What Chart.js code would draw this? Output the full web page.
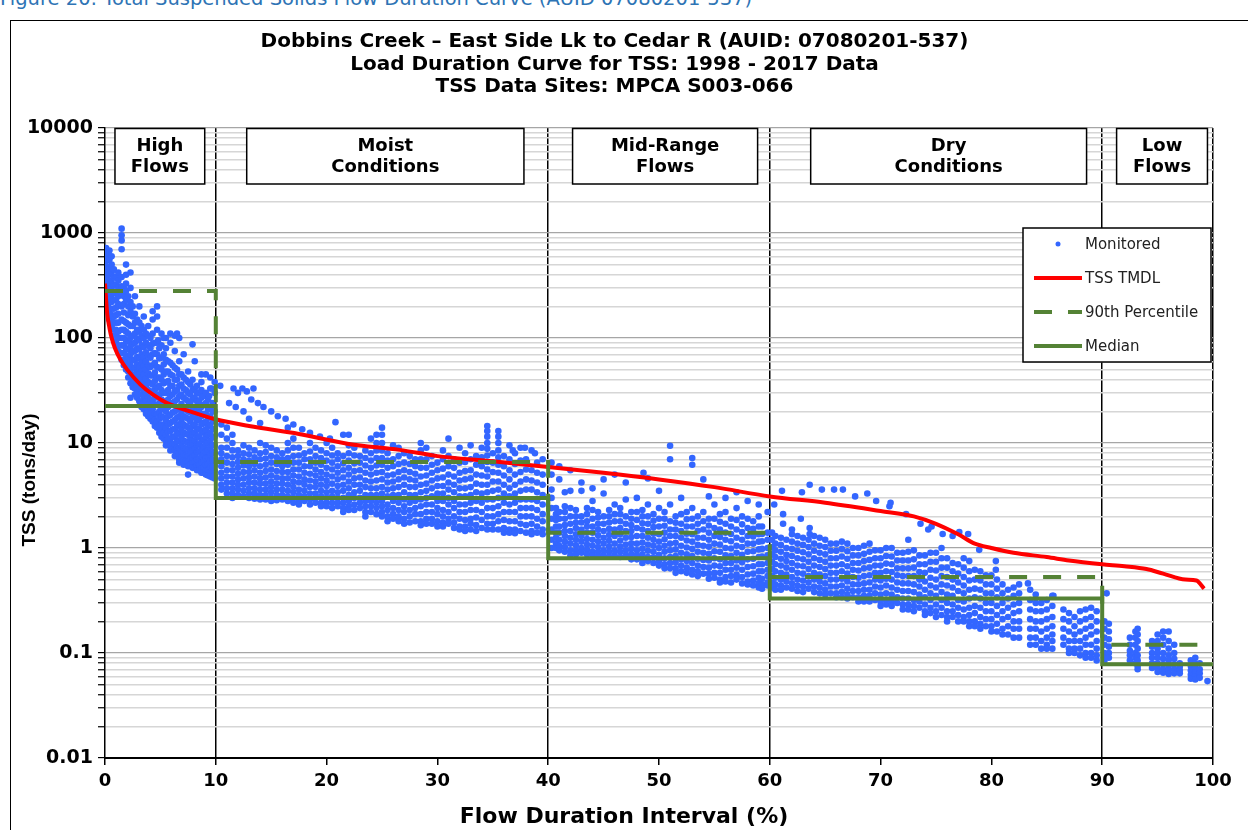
<!DOCTYPE html>
<html>
<head>
<meta charset="utf-8">
<script src="https://cdn.jsdelivr.net/npm/chart.js@4.4.1/dist/chart.umd.min.js"></script>
<style>
  body { margin: 0; background: #fff; width: 1248px; height: 830px; overflow: hidden; position: relative; }
  #caption { position: absolute; left: 0; top: -13px; font: 19.5px "DejaVu Sans", sans-serif; color: #2e74b5; white-space: nowrap; }
  #frame { position: absolute; left: 10px; top: 20px; width: 1260px; height: 830px; border-left: 1.5px solid #000; border-top: 1.5px solid #000; }
  canvas { position: absolute; left: 0; top: 0; }
</style>
</head>
<body>
<div id="caption">Figure 20: Total Suspended Solids Flow Duration Curve (AUID 07080201-537)</div>
<div id="frame"></div>
<canvas id="ldc" width="1248" height="830"></canvas>
<script>
// DATA -----------------------------------------------------------------------

const titleLines = [
    'Dobbins Creek \u2013 East Side Lk to Cedar R (AUID: 07080201-537)',
    'Load Duration Curve for TSS: 1998 - 2017 Data',
    'TSS Data Sites: MPCA S003-066'
]
const xTitle = 'Flow Duration Interval (%)'
const yTitle = 'TSS (tons/day)'
const yTickLabels = ['0.01', '0.1', '1', '10', '100', '1000', '10000']

// flow zones
const zoneBounds = [0, 10, 40, 60, 90, 100]
const zoneNames = [['High', 'Flows'], ['Moist', 'Conditions'], ['Mid-Range', 'Flows'], ['Dry', 'Conditions'], ['Low', 'Flows']]
const p90Values = [280, 6.6, 1.4, 0.53, 0.12]
const medianValues = [22.5, 3.0, 0.8, 0.33, 0.078]

// TMDL curve
const tmdlX = [0, 0.1, 0.2, 0.4, 0.6, 0.9, 1.4, 2, 3.2, 4.3, 5.6, 8, 9.8, 13, 17.5, 22, 26.6, 30, 35, 40, 45, 50, 55, 60, 65, 70, 73, 75, 77, 78.5, 80, 82, 85, 87, 90, 92, 94, 95.5, 97.5, 98.5, 99.2]
const tmdlY = [330, 230, 170, 125, 100, 80, 62, 50, 36, 29, 24, 19.5, 17, 14.5, 12.2, 9.8, 8.6, 7.5, 6.7, 5.9, 5.2, 4.5, 3.8, 3.1, 2.7, 2.25, 2.0, 1.7, 1.35, 1.1, 1.0, 0.9, 0.82, 0.76, 0.70, 0.67, 0.63, 0.57, 0.50, 0.49, 0.41]

// monitored loads, per flow column: [x, y1, y2, ...]
const monitoredColumns = [
    // high flows
    [0.1, 720, 620, 540, 470, 410, 360, 320, 290, 260, 230, 200],
    [0.25, 650, 560, 480, 420, 360, 310, 270, 235, 205, 180],
    [0.4, 680, 560, 470, 400, 340, 290, 250, 220, 190, 170, 150],
    [0.6, 600, 500, 420, 350, 300, 255, 220, 190, 165, 145, 130],
    [0.8, 450, 380, 320, 270, 230, 190, 160, 140, 120, 105],
    [1.0, 380, 320, 270, 230, 195, 165, 140, 120, 105, 92],
    [1.2, 420, 350, 300, 250, 210, 170, 140, 115, 100, 85, 75],
    [1.5, 1100, 950, 850, 700, 380, 310, 260, 200, 150, 120, 100, 85, 72, 62],
    [1.7, 300, 250, 210, 175, 145, 120, 100, 85, 72, 62, 55],
    [1.9, 500, 400, 330, 280, 230, 140, 115, 95, 80, 68, 58, 50],
    [2.1, 250, 200, 165, 135, 110, 92, 78, 66, 56, 48, 42],
    [2.3, 420, 300, 220, 180, 130, 100, 82, 70, 58, 50, 43, 37],
    [2.5, 200, 160, 130, 105, 88, 74, 62, 52, 45, 39, 34],
    [2.7, 250, 170, 140, 110, 90, 75, 62, 52, 44, 38, 33, 29],
    [2.9, 150, 120, 98, 80, 66, 56, 47, 40, 34, 30, 27],
    [3.1, 200, 140, 115, 95, 78, 64, 53, 45, 38, 33, 29, 25],
    [3.3, 130, 105, 85, 70, 58, 48, 40, 34, 29, 25, 22],
    [3.5, 160, 120, 100, 82, 66, 54, 45, 38, 32, 28, 24, 21],
    [3.7, 110, 90, 73, 60, 50, 41, 35, 30, 25, 22, 19],
    [3.9, 130, 105, 85, 68, 55, 46, 38, 32, 27, 23, 20, 18],
    [4.1, 100, 80, 65, 53, 44, 37, 31, 26, 22, 19, 17],
    [4.3, 180, 150, 110, 88, 70, 55, 44, 36, 30, 25, 21, 18, 16],
    [4.5, 90, 72, 58, 47, 39, 32, 27, 23, 19, 16.5, 14.5],
    [4.7, 200, 160, 120, 90, 70, 53, 42, 34, 28, 23, 19, 16, 14],
    [4.9, 80, 64, 52, 42, 35, 29, 24, 20, 17, 14.5, 12.5],
    [5.1, 110, 85, 65, 50, 40, 32, 26, 21, 18, 15, 13, 11.5],
    [5.3, 70, 56, 45, 37, 30, 25, 21, 17.5, 14.5, 12.5, 11],
    [5.5, 100, 80, 62, 48, 38, 30, 24, 20, 16.5, 14, 12, 10.5, 9.5],
    [5.7, 60, 48, 39, 32, 26, 22, 18, 15, 12.8, 11, 9.7],
    [5.9, 110, 90, 58, 45, 35, 28, 23, 18.5, 15.5, 13, 11, 9.5, 8.5],
    [6.1, 55, 44, 35, 29, 24, 19.5, 16, 13.5, 11.5, 9.8, 8.7],
    [6.3, 105, 75, 52, 40, 31, 25, 20, 16.5, 13.5, 11.5, 9.8, 8.5, 7.5],
    [6.5, 50, 40, 32, 26, 21, 17.5, 14.5, 12.2, 10.4, 9, 7.9],
    [6.7, 100, 60, 45, 35, 28, 22, 18, 15, 12.5, 10.5, 9, 7.8, 7, 6.5],
    [6.9, 45, 36, 29, 23.5, 19.5, 16, 13.5, 11.3, 9.6, 8.3, 7.3],
    [7.1, 70, 42, 33, 27, 22, 18, 15, 12.5, 10.5, 9, 7.8, 6.8, 6.2],
    [7.3, 40, 32, 26, 21, 17.5, 14.5, 12.2, 10.3, 8.8, 7.6, 6.7],
    [7.5, 48, 38, 30, 25, 20, 17, 14, 12, 10, 8.6, 7.5, 6.6, 6],
    [7.7, 36, 29, 24, 19.5, 16, 13.3, 11.2, 9.5, 8.1, 7, 6.2],
    [7.9, 87, 40, 32, 26, 21, 17.5, 14.5, 12, 10, 8.5, 7.3, 6.4, 5.8],
    [8.1, 33, 27, 22, 18, 15, 12.5, 10.5, 8.9, 7.6, 6.6, 5.8],
    [8.3, 35, 30, 25, 20, 16.5, 13.5, 11.5, 9.6, 8.2, 7, 6.1, 5.5],
    [8.5, 30, 25, 20, 16.5, 13.7, 11.5, 9.7, 8.3, 7.1, 6.2, 5.5],
    [8.7, 38, 32, 27, 22, 18, 15, 12.5, 10.5, 8.8, 7.5, 6.5, 5.7, 5.2],
    [8.9, 28, 23, 19, 15.5, 13, 10.8, 9.2, 7.8, 6.7, 5.8, 5.2],
    [9.1, 45, 30, 24, 19, 16, 13.5, 11.5, 9.8, 8.3, 7.2, 6.2, 5.5, 5],
    [9.3, 26, 21, 17.5, 14.5, 12, 10.1, 8.6, 7.3, 6.3, 5.5, 4.9],
    [9.5, 42, 33, 22, 18, 15, 12.5, 10.5, 9, 7.7, 6.7, 5.9, 5.2, 4.8],
    [9.7, 24, 20, 16.5, 13.6, 11.3, 9.5, 8, 6.9, 5.9, 5.2, 4.7],
    [9.9, 38, 30, 20, 16, 13.5, 11.5, 9.5, 8.2, 7, 6.1, 5.4, 4.9, 4.6],
    // moist conditions
    [10.5, 15, 12, 9, 8, 7, 6, 5.2, 4.6, 4, 3.6],
    [11, 14, 11, 9, 7.5, 6.5, 5.5, 4.8, 4.2, 3.7, 3.3],
    [11.5, 12, 10, 8.5, 7.3, 6.3, 5.5, 4.8, 4.2, 3.7, 3.3, 3.0],
    [12, 8.5, 7.5, 6.6, 5.8, 5.1, 4.5, 4, 3.6, 3.2],
    [12.5, 9.5, 8, 7, 6.1, 5.3, 4.6, 4, 3.5, 3.1],
    [13, 9, 7.8, 6.8, 6, 5.3, 4.7, 4.2, 3.7, 3.3, 3],
    [13.5, 8.5, 7.3, 6.3, 5.5, 4.8, 4.2, 3.7, 3.3, 2.95],
    [14, 10, 8, 7, 6, 5.2, 4.6, 4.1, 3.6, 3.2, 2.9],
    [14.5, 9.5, 8.2, 7.1, 6.2, 5.4, 4.7, 4.1, 3.6, 3.2, 2.9],
    [15, 9, 7.5, 6.5, 5.6, 4.9, 4.3, 3.8, 3.4, 3, 2.8],
    [15.5, 8.5, 7.3, 6.3, 5.4, 4.7, 4.1, 3.6, 3.2, 2.85],
    [16, 8, 7, 6, 5.3, 4.6, 4.1, 3.6, 3.2, 2.9],
    [16.5, 10, 8.5, 7.2, 6.2, 5.3, 4.6, 4, 3.5, 3.1, 2.8],
    [17, 11, 9, 7.5, 6.5, 5.6, 4.9, 4.3, 3.8, 3.4, 3, 2.7],
    [17.5, 9, 7.6, 6.5, 5.6, 4.8, 4.2, 3.6, 3.2, 2.8, 2.6],
    [18, 8, 7, 6, 5.2, 4.5, 4, 3.5, 3.1, 2.8],
    [18.5, 10, 8.3, 7, 6, 5.1, 4.4, 3.8, 3.3, 2.9, 2.6],
    [19, 9, 7.5, 6.5, 5.6, 4.9, 4.3, 3.8, 3.3, 3, 2.7],
    [19.5, 8.5, 7.2, 6.2, 5.3, 4.6, 4, 3.5, 3.1, 2.7, 2.5],
    [20, 10, 8, 6.8, 5.8, 5, 4.4, 3.9, 3.4, 3, 2.7, 2.5],
    [20.5, 9, 7.6, 6.5, 5.6, 4.8, 4.1, 3.5, 3.1, 2.7, 2.4],
    [21, 8, 7, 6, 5.2, 4.5, 3.9, 3.4, 3, 2.7, 2.5],
    [21.5, 7.5, 6.4, 5.5, 4.7, 4, 3.5, 3, 2.7, 2.4, 2.2],
    [22, 12, 9.5, 8, 6.8, 5.8, 5, 4.3, 3.7, 3.2, 2.8, 2.5, 2.3],
    [22.5, 9, 7.6, 6.4, 5.4, 4.6, 4, 3.4, 3, 2.6, 2.3],
    [23, 7.5, 6.5, 5.5, 4.7, 4, 3.5, 3, 2.7, 2.4],
    [23.5, 8.5, 7.2, 6.1, 5.2, 4.4, 3.8, 3.2, 2.8, 2.5, 2.2, 2],
    [24, 8, 6.8, 5.8, 5, 4.3, 3.7, 3.2, 2.8, 2.5, 2.2],
    [24.5, 12, 10, 8.5, 7.2, 6.1, 5.2, 4.4, 3.7, 3.2, 2.7, 2.4, 2.1],
    [25, 14, 12, 10, 8.5, 7.2, 6.2, 5.3, 4.5, 3.8, 3.3, 2.8, 2.5, 2.2, 2],
    [25.5, 8, 6.8, 5.8, 4.9, 4.2, 3.6, 3.1, 2.6, 2.3, 2, 1.8],
    [26, 7, 6, 5, 4.3, 3.7, 3.2, 2.8, 2.4, 2.1, 1.9],
    [26.5, 9, 7.5, 6.3, 5.3, 4.5, 3.8, 3.2, 2.7, 2.3, 2, 1.8],
    [27, 8, 6.5, 5.5, 4.7, 4, 3.4, 2.9, 2.5, 2.2, 1.9, 1.7],
    [27.5, 7.5, 6.3, 5.3, 4.5, 3.8, 3.2, 2.7, 2.3, 2, 1.75],
    [28, 7, 6, 5.1, 4.4, 3.8, 3.2, 2.8, 2.4, 2.1, 1.8],
    [28.5, 8.5, 7, 5.8, 4.8, 4, 3.4, 2.9, 2.5, 2.1, 1.8, 1.65],
    [29, 9, 7, 5.8, 4.9, 4.1, 3.5, 3, 2.6, 2.2, 1.9, 1.7],
    [29.5, 7.5, 6.2, 5.2, 4.4, 3.7, 3.1, 2.6, 2.2, 1.9, 1.7],
    [30, 6.5, 5.5, 4.6, 3.9, 3.3, 2.8, 2.4, 2.1, 1.8, 1.6],
    [30.5, 8.5, 7, 5.7, 4.7, 3.9, 3.3, 2.8, 2.3, 2, 1.75, 1.6],
    [31, 7.5, 6, 5, 4.2, 3.6, 3, 2.6, 2.2, 1.9, 1.7],
    [31.5, 7, 5.8, 4.8, 4, 3.4, 2.8, 2.4, 2, 1.75, 1.55],
    [32, 9, 6.5, 5.2, 4.4, 3.7, 3.1, 2.6, 2.2, 1.9, 1.6, 1.5],
    [32.5, 8, 6.6, 5.4, 4.5, 3.7, 3.1, 2.6, 2.2, 1.85, 1.6, 1.45],
    [33, 7, 5.5, 4.6, 3.8, 3.2, 2.7, 2.3, 1.9, 1.7, 1.5],
    [33.5, 7.5, 6.2, 5, 4.1, 3.4, 2.8, 2.3, 1.95, 1.65, 1.45],
    [34, 9, 7.3, 6, 4.9, 4, 3.3, 2.7, 2.2, 1.85, 1.55],
    [34.5, 14.5, 13, 11.5, 10, 8.8, 7.6, 6.6, 5.6, 4.8, 4, 3.4, 2.9, 2.4, 2, 1.7, 1.5],
    [35, 8, 6.5, 5.3, 4.3, 3.5, 2.9, 2.4, 2, 1.7, 1.5],
    [35.5, 13, 11.5, 10, 8.5, 7.3, 6.2, 5.2, 4.3, 3.6, 3, 2.5, 2.1, 1.8, 1.5],
    [36, 7.5, 6, 4.9, 4, 3.3, 2.7, 2.2, 1.85, 1.55, 1.4],
    [36.5, 9.5, 7, 5.5, 4.5, 3.7, 3.1, 2.6, 2.2, 1.8, 1.5, 1.4],
    [37, 8, 6.3, 5, 4, 3.3, 2.7, 2.2, 1.8, 1.5, 1.38],
    [37.5, 9, 6.8, 5.3, 4.3, 3.5, 2.9, 2.4, 2, 1.7, 1.45],
    [38, 7, 5.6, 4.5, 3.6, 2.9, 2.4, 2, 1.65, 1.4],
    [38.5, 8.5, 5.5, 4.4, 3.6, 2.9, 2.4, 2, 1.7, 1.45, 1.35],
    [39, 6.5, 5.2, 4.2, 3.4, 2.8, 2.3, 1.9, 1.6, 1.4],
    [39.5, 7, 5, 4, 3.2, 2.6, 2.1, 1.8, 1.5, 1.35],
    // mid-range flows
    [40.3, 6.5, 5, 3.6, 3, 2.4, 1.9, 1.5, 1.2, 1],
    [40.7, 2.4, 2.1, 1.85, 1.6, 1.4, 1.25, 1.1, 1],
    [41, 6, 4.5, 2.2, 1.9, 1.6, 1.4, 1.2, 1.05, 0.95],
    [41.5, 2.5, 2.2, 1.9, 1.65, 1.45, 1.3, 1.15, 1.02, 0.92],
    [42, 5.5, 3.5, 2.4, 2, 1.7, 1.45, 1.25, 1.1, 0.95, 0.85],
    [42.5, 2.3, 2, 1.75, 1.55, 1.35, 1.2, 1.06, 0.95, 0.87],
    [43, 4.2, 3.5, 2, 1.75, 1.5, 1.3, 1.15, 1, 0.9],
    [43.5, 2.4, 2.1, 1.8, 1.6, 1.4, 1.22, 1.08, 0.96, 0.87],
    [44, 3.7, 2.8, 2.3, 1.9, 1.6, 1.4, 1.2, 1.05, 0.92, 0.85],
    [44.5, 2.2, 1.95, 1.7, 1.5, 1.32, 1.16, 1.02, 0.92, 0.84],
    [45, 4.5, 3.3, 2, 1.7, 1.45, 1.25, 1.1, 0.95, 0.85],
    [45.5, 2.3, 2, 1.75, 1.52, 1.33, 1.17, 1.03, 0.92, 0.83],
    [46, 2.6, 2.1, 1.8, 1.5, 1.3, 1.1, 0.95, 0.85],
    [46.5, 2.4, 2.1, 1.8, 1.55, 1.35, 1.18, 1.03, 0.92, 0.82],
    [47, 4.2, 2.9, 2, 1.7, 1.45, 1.25, 1.08, 0.95, 0.85],
    [47.5, 2.2, 1.9, 1.65, 1.45, 1.27, 1.11, 0.98, 0.87, 0.78],
    [48, 3, 2.2, 1.85, 1.55, 1.3, 1.1, 0.95, 0.85, 0.78],
    [48.5, 2.3, 2, 1.72, 1.5, 1.3, 1.13, 0.99, 0.87, 0.78, 0.72],
    [49, 4.6, 2.6, 2, 1.7, 1.45, 1.25, 1.08, 0.94, 0.82, 0.75],
    [49.5, 2.1, 1.82, 1.58, 1.37, 1.2, 1.05, 0.92, 0.81, 0.72],
    [50, 3.5, 2.4, 1.9, 1.6, 1.35, 1.15, 1, 0.86, 0.75, 0.68],
    [50.5, 2.2, 1.9, 1.63, 1.4, 1.21, 1.05, 0.92, 0.8, 0.7, 0.64],
    [51, 9.4, 7, 2.6, 1.8, 1.5, 1.3, 1.1, 0.95, 0.82, 0.72, 0.64],
    [51.5, 2, 1.74, 1.5, 1.3, 1.12, 0.97, 0.84, 0.73, 0.64, 0.58],
    [52, 3, 2.1, 1.7, 1.45, 1.25, 1.05, 0.9, 0.78, 0.68, 0.6],
    [52.5, 2.2, 1.88, 1.6, 1.37, 1.18, 1.01, 0.87, 0.75, 0.65, 0.58],
    [53, 7.2, 6.2, 2.4, 1.9, 1.6, 1.35, 1.15, 0.98, 0.84, 0.72, 0.62, 0.56],
    [53.5, 2, 1.7, 1.46, 1.25, 1.07, 0.92, 0.79, 0.68, 0.6, 0.54],
    [54, 4.5, 2.2, 1.8, 1.5, 1.25, 1.05, 0.9, 0.77, 0.66, 0.57],
    [54.5, 1.9, 1.64, 1.4, 1.2, 1.03, 0.88, 0.76, 0.65, 0.57, 0.51],
    [55, 2.6, 1.9, 1.55, 1.3, 1.1, 0.93, 0.8, 0.68, 0.58, 0.52],
    [55.5, 2.1, 1.78, 1.5, 1.27, 1.08, 0.92, 0.78, 0.67, 0.58, 0.5, 0.47],
    [56, 3, 2.2, 1.7, 1.4, 1.2, 1, 0.85, 0.72, 0.62, 0.53, 0.48],
    [56.5, 1.9, 1.6, 1.36, 1.16, 0.99, 0.84, 0.72, 0.62, 0.54, 0.47],
    [57, 2.4, 1.85, 1.5, 1.25, 1.05, 0.9, 0.76, 0.65, 0.56, 0.5],
    [57.5, 2, 1.68, 1.42, 1.2, 1.02, 0.86, 0.73, 0.62, 0.53, 0.46],
    [58, 2.8, 1.9, 1.55, 1.3, 1.1, 0.92, 0.78, 0.66, 0.56, 0.48, 0.45],
    [58.5, 1.8, 1.52, 1.29, 1.1, 0.93, 0.79, 0.67, 0.57, 0.49, 0.44],
    [59, 2, 1.6, 1.35, 1.15, 0.97, 0.82, 0.7, 0.6, 0.52, 0.46, 0.42],
    [59.3, 1.6, 1.36, 1.16, 0.98, 0.83, 0.7, 0.6, 0.51, 0.45, 0.41],
    [59.8, 2.2, 1.4, 1.2, 1, 0.85, 0.72, 0.62, 0.54, 0.47, 0.44],
    // dry conditions
    [60.2, 1.4, 1.2, 1.02, 0.87, 0.74, 0.63, 0.54, 0.47, 0.42],
    [60.5, 1.3, 1.1, 0.95, 0.82, 0.7, 0.6, 0.52, 0.45, 0.4],
    [61, 1.25, 1.07, 0.92, 0.79, 0.68, 0.58, 0.5, 0.44, 0.4],
    [61.5, 1.2, 1.0, 0.86, 0.75, 0.65, 0.56, 0.48, 0.42],
    [62, 1.35, 1.15, 0.98, 0.84, 0.72, 0.62, 0.53, 0.46, 0.41],
    [62.5, 1.3, 1.1, 0.94, 0.8, 0.68, 0.58, 0.5, 0.44, 0.39],
    [63, 1.25, 1.07, 0.91, 0.78, 0.67, 0.57, 0.49, 0.43, 0.38],
    [63.5, 1.2, 1.02, 0.87, 0.74, 0.63, 0.54, 0.47, 0.41],
    [64, 1.3, 1.1, 0.94, 0.8, 0.68, 0.58, 0.5, 0.43, 0.38],
    [64.5, 1.25, 1.05, 0.9, 0.77, 0.66, 0.56, 0.48, 0.42, 0.37],
    [65, 1.2, 1.02, 0.87, 0.74, 0.63, 0.54, 0.46, 0.4, 0.36],
    [65.5, 1.1, 0.94, 0.8, 0.68, 0.58, 0.5, 0.43, 0.37],
    [66, 1.1, 0.94, 0.8, 0.68, 0.58, 0.5, 0.43, 0.37, 0.34],
    [66.5, 1.15, 0.98, 0.83, 0.7, 0.6, 0.51, 0.44, 0.38, 0.34],
    [67, 1.1, 0.93, 0.79, 0.67, 0.57, 0.48, 0.41, 0.36, 0.33],
    [67.5, 1.0, 0.85, 0.72, 0.62, 0.53, 0.45, 0.39, 0.34],
    [68, 1, 0.85, 0.72, 0.61, 0.52, 0.45, 0.39, 0.34, 0.31],
    [68.5, 1.05, 0.88, 0.75, 0.64, 0.54, 0.46, 0.4, 0.35, 0.31],
    [69, 1.1, 0.92, 0.77, 0.65, 0.55, 0.47, 0.4, 0.35, 0.31],
    [69.5, 0.95, 0.8, 0.68, 0.58, 0.5, 0.43, 0.37, 0.32],
    [70, 0.95, 0.8, 0.68, 0.58, 0.49, 0.42, 0.36, 0.31, 0.28],
    [70.5, 1.0, 0.84, 0.71, 0.6, 0.51, 0.44, 0.37, 0.32, 0.29],
    [71, 1, 0.83, 0.7, 0.59, 0.5, 0.42, 0.36, 0.31, 0.28],
    [71.5, 0.9, 0.76, 0.64, 0.55, 0.47, 0.4, 0.34, 0.3],
    [72, 0.9, 0.76, 0.64, 0.54, 0.46, 0.39, 0.33, 0.29, 0.26],
    [72.5, 1.2, 0.92, 0.76, 0.64, 0.54, 0.46, 0.39, 0.33, 0.29, 0.26],
    [73, 0.95, 0.78, 0.65, 0.54, 0.45, 0.38, 0.32, 0.28, 0.25],
    [73.5, 0.85, 0.7, 0.59, 0.5, 0.43, 0.36, 0.31, 0.27],
    [74, 0.85, 0.7, 0.58, 0.48, 0.4, 0.34, 0.29, 0.25, 0.23],
    [74.5, 0.9, 0.74, 0.62, 0.52, 0.44, 0.37, 0.32, 0.27, 0.24],
    [75, 0.9, 0.74, 0.61, 0.5, 0.42, 0.35, 0.29, 0.25, 0.22],
    [75.5, 1.0, 0.8, 0.65, 0.54, 0.45, 0.38, 0.32, 0.27, 0.23],
    [76, 0.8, 0.65, 0.53, 0.44, 0.36, 0.3, 0.25, 0.22, 0.2],
    [76.5, 0.72, 0.6, 0.5, 0.42, 0.35, 0.29, 0.25, 0.22],
    [77, 0.7, 0.57, 0.47, 0.39, 0.32, 0.27, 0.23, 0.2],
    [77.5, 0.8, 0.65, 0.53, 0.44, 0.37, 0.31, 0.26, 0.22, 0.2],
    [78, 0.75, 0.6, 0.49, 0.4, 0.33, 0.27, 0.23, 0.2, 0.18],
    [78.5, 0.62, 0.5, 0.41, 0.34, 0.28, 0.24, 0.2, 0.18],
    [79, 0.6, 0.49, 0.4, 0.33, 0.27, 0.22, 0.19, 0.17],
    [79.5, 0.55, 0.45, 0.37, 0.3, 0.25, 0.21, 0.18],
    [80, 0.55, 0.45, 0.37, 0.3, 0.25, 0.21, 0.18, 0.16],
    [80.5, 0.5, 0.41, 0.34, 0.28, 0.23, 0.19, 0.16],
    [81, 0.45, 0.37, 0.3, 0.25, 0.21, 0.17, 0.15],
    [81.5, 0.4, 0.33, 0.27, 0.22, 0.18, 0.15],
    [82, 0.42, 0.35, 0.29, 0.24, 0.2, 0.17, 0.14],
    [82.5, 0.45, 0.37, 0.3, 0.25, 0.2, 0.17, 0.14],
    [83.5, 0.4, 0.32, 0.26, 0.21, 0.17, 0.14, 0.12],
    [84, 0.36, 0.3, 0.25, 0.2, 0.17, 0.14, 0.12],
    [84.5, 0.3, 0.25, 0.2, 0.16, 0.13, 0.11],
    [85, 0.32, 0.26, 0.21, 0.17, 0.14, 0.12, 0.11],
    [85.5, 0.35, 0.28, 0.22, 0.18, 0.15, 0.13, 0.11],
    [86.5, 0.26, 0.21, 0.17, 0.14, 0.12],
    [87, 0.24, 0.2, 0.16, 0.13, 0.11, 0.1],
    [87.5, 0.22, 0.18, 0.15, 0.13, 0.11, 0.1],
    [88, 0.25, 0.2, 0.16, 0.13, 0.11, 0.095],
    [88.5, 0.26, 0.21, 0.17, 0.14, 0.12, 0.1, 0.09],
    [89, 0.27, 0.22, 0.18, 0.15, 0.12, 0.1, 0.09],
    [89.5, 0.25, 0.2, 0.16, 0.13, 0.11, 0.095, 0.085],
    // low flows
    [90.2, 0.2, 0.17, 0.14, 0.12, 0.1, 0.09, 0.084],
    [90.6, 0.19, 0.16, 0.135, 0.115, 0.1, 0.09],
    [92.5, 0.14, 0.12, 0.105, 0.095, 0.085],
    [93, 0.16, 0.14, 0.12, 0.1, 0.09, 0.08],
    [93.2, 0.17, 0.15, 0.13, 0.11, 0.095, 0.085, 0.075, 0.07],
    [94.5, 0.13, 0.115, 0.1, 0.09, 0.08, 0.072],
    [95, 0.15, 0.13, 0.11, 0.1, 0.09, 0.08, 0.072, 0.066],
    [95.5, 0.16, 0.14, 0.12, 0.1, 0.088, 0.078, 0.07, 0.065],
    [96, 0.16, 0.13, 0.11, 0.095, 0.085, 0.075, 0.068, 0.063],
    [96.5, 0.12, 0.1, 0.088, 0.078, 0.07, 0.064],
    [97, 0.08, 0.074, 0.068, 0.064],
    [98, 0.085, 0.075, 0.068, 0.062, 0.057],
    [98.4, 0.09, 0.08, 0.072, 0.065, 0.06, 0.056],
    [98.8, 0.08, 0.07, 0.064, 0.058]
]

// scattered single readings: [x, y]
const monitoredExtra = [
    [2.3, 27], [7.5, 5], [4.8, 95], [5.3, 100], [6.5, 110], [8.1, 60], [8.7, 45], [9.6, 33], [9.4, 28],
    [10.4, 35], [11.2, 24], [11.6, 33], [12, 30], [12.4, 33], [12.8, 31], [13.4, 33], [11.8, 22], [12.5, 20],
    [13.2, 26], [13.8, 24], [14.3, 22], [15, 20], [15.6, 18], [16.3, 17], [17, 15], [17.8, 13.5], [18.5, 12.5],
    [19.4, 11.5], [20.3, 11], [13, 17], [14, 15.5], [16.5, 14], [20.8, 15.8], [21.5, 12], [24, 11], [26, 9.5],
    [28.5, 10], [31, 11], [33, 9.5], [36.8, 8.5], [37.9, 9], [38.8, 8],
    [41.5, 3.4], [46, 5], [48.6, 5.2], [54.5, 3.1], [57, 3.4], [59, 2.6],
    [60.4, 2.6], [61.1, 3.5], [62.9, 3.4], [63.6, 4], [64.7, 3.6], [65.8, 3.6], [66.6, 3.6], [67.7, 3.1],
    [68.8, 3.3], [69.6, 2.8], [70.8, 2.5], [70.9, 2.7], [72.3, 2.1], [61.2, 2.1], [61.2, 1.7], [62.8, 1.9],
    [62, 1.5], [63.6, 1.55], [63.6, 1.36], [73.6, 1.7], [74.3, 1.5], [74.6, 1.6], [75.6, 1.36], [76.5, 1.3],
    [77.1, 1.42], [77.9, 1.36], [78.9, 0.96], [80.4, 0.75], [80.4, 0.62], [83.3, 0.46], [85.6, 0.35],
    [90.4, 0.37], [99.5, 0.054]
]

// SETTINGS -------------------------------------------------------------------

const FONT = '"DejaVu Sans", sans-serif'
const colors = {
    monitored: '#3366ff',
    tmdl: '#ff0000',
    green: '#548235',
    gridMajor: '#a6a6a6',
    gridMinor: '#d6d6d6'
}

function stepData(values) {
    return zoneBounds.map((x, i) => ({x: x, y: values[Math.min(i, values.length - 1)]}))
}

const monitoredPoints = []
monitoredColumns.forEach(([x, ...ys]) => ys.forEach(y => monitoredPoints.push({x: x, y: y})))
monitoredExtra.forEach(([x, y]) => monitoredPoints.push({x: x, y: y}))

// PLUGINS --------------------------------------------------------------------

// zone label boxes, legend box and axis titles
const decorations = {
    id: 'decorations',
    afterDatasetsDraw(chart) {
        const {ctx, chartArea: a, scales: {x}} = chart
        ctx.save()

        // zone boxes, inset inside each zone (fractions of zone width)
        const insets = [[0.09, 0.1], [0.093, 0.073], [0.11, 0.055], [0.123, 0.047], [0.13, 0.05]]
        ctx.font = `bold 18px ${FONT}`
        ctx.textAlign = 'center'
        ctx.textBaseline = 'middle'
        zoneNames.forEach((lines, i) => {
            const lo = zoneBounds[i], hi = zoneBounds[i + 1], w = hi - lo
            const l = x.getPixelForValue(lo + w * insets[i][0])
            const r = x.getPixelForValue(hi - w * insets[i][1])
            const t = a.top + 0.5, b = a.top + 56
            ctx.fillStyle = '#fff'
            ctx.fillRect(l, t, r - l, b - t)
            ctx.strokeStyle = '#000'
            ctx.lineWidth = 1.5
            ctx.strokeRect(l, t, r - l, b - t)
            ctx.fillStyle = '#000'
            ctx.fillText(lines[0], (l + r) / 2, t + 18)
            ctx.fillText(lines[1], (l + r) / 2, t + 39)
        })

        // legend
        const boxW = 188, boxH = 134
        const boxL = a.right - boxW - 2, boxT = a.top + 100
        ctx.fillStyle = '#fff'
        ctx.fillRect(boxL, boxT, boxW, boxH)
        ctx.strokeStyle = '#000'
        ctx.lineWidth = 1.5
        ctx.strokeRect(boxL, boxT, boxW, boxH)
        ctx.font = `15px ${FONT}`
        ctx.textAlign = 'left'
        chart.data.datasets.forEach((ds, row) => {
            const y = boxT + 16 + row * 34
            if (ds.showLine === false) {
                ctx.fillStyle = ds.pointBackgroundColor
                ctx.beginPath()
                ctx.arc(boxL + 35, y, 2.5, 0, Math.PI * 2)
                ctx.fill()
            } else {
                ctx.strokeStyle = ds.borderColor
                ctx.lineWidth = ds.borderWidth
                ctx.setLineDash(ds.borderDash || [])
                ctx.beginPath()
                ctx.moveTo(boxL + 11, y)
                ctx.lineTo(boxL + 59, y)
                ctx.stroke()
                ctx.setLineDash([])
            }
            ctx.fillStyle = '#222'
            ctx.fillText(ds.label, boxL + 62, y + 1)
        })

        // axis titles
        ctx.fillStyle = '#000'
        ctx.textAlign = 'center'
        ctx.font = `bold 22px ${FONT}`
        ctx.fillText(xTitle, 624, 817)
        ctx.translate(30, 480)
        ctx.rotate(-Math.PI / 2)
        ctx.font = 'bold 19px "Liberation Sans", Arial, sans-serif'
        ctx.fillText(yTitle, 0, 0)
        ctx.restore()
    }
}

// CHART ----------------------------------------------------------------------

new Chart(document.getElementById('ldc'), {
    type: 'scatter',
    data: {
        datasets: [
            {
                label: 'Monitored',
                data: monitoredPoints,
                showLine: false,
                pointRadius: 3.3,
                pointBorderWidth: 0,
                pointBackgroundColor: colors.monitored,
                order: 3
            },
            {
                label: 'TSS TMDL',
                type: 'line',
                data: tmdlX.map((x, i) => ({x: x, y: tmdlY[i]})),
                borderColor: colors.tmdl,
                borderWidth: 4,
                pointRadius: 0,
                cubicInterpolationMode: 'monotone',
                order: 2
            },
            {
                label: '90th Percentile',
                type: 'line',
                data: stepData(p90Values),
                stepped: true,
                borderColor: colors.green,
                borderWidth: 4,
                borderDash: [18, 16],
                pointRadius: 0,
                order: 1
            },
            {
                label: 'Median',
                type: 'line',
                data: stepData(medianValues),
                stepped: true,
                borderColor: colors.green,
                borderWidth: 4,
                pointRadius: 0,
                order: 0
            }
        ]
    },
    options: {
        responsive: false,
        animation: false,
        devicePixelRatio: 1,
        layout: {
            padding: {top: 0, left: 16, right: 35, bottom: 0}
        },
        plugins: {
            legend: {display: false},
            tooltip: {enabled: false},
            title: {
                display: true,
                text: titleLines,
                color: '#000',
                font: {family: FONT, size: 20, weight: 'bold', lineHeight: 1.125},
                padding: {top: 31, bottom: 29.5}
            }
        },
        scales: {
            x: {
                type: 'linear',
                min: 0,
                max: 100,
                afterFit: scale => { scale.height = 72 },
                ticks: {
                    stepSize: 10,
                    maxRotation: 0,
                    padding: 6,
                    color: '#000',
                    font: {family: FONT, size: 18, weight: 'bold'}
                },
                grid: {
                    color: ctx => (ctx.tick && ctx.tick.value > 0 && zoneBounds.includes(ctx.tick.value)) ? '#000' : 'rgba(0,0,0,0)',
                    lineWidth: 1.5,
                    tickLength: 7,
                    tickColor: '#000',
                    tickWidth: 1.5
                },
                border: {display: true, color: '#000', width: 2}
            },
            y: {
                type: 'logarithmic',
                min: 0.01,
                max: 10000,
                afterFit: scale => { scale.width = 89 },
                afterBuildTicks: scale => {
                    const ticks = []
                    yTickLabels.forEach((lbl, i) => {
                        const d = Number(lbl)
                        const top = i === yTickLabels.length - 1 ? 1 : 9
                        for (let k = 1; k <= top; k++) ticks.push({value: k * d, major: k === 1})
                    })
                    scale.ticks = ticks
                },
                ticks: {
                    autoSkip: false,
                    padding: 5,
                    color: '#000',
                    font: {family: FONT, size: 19, weight: 'bold'},
                    callback: value => yTickLabels.includes(String(value)) ? String(value) : ''
                },
                grid: {
                    color: ctx => (ctx.tick && yTickLabels.includes(String(ctx.tick.value))) ? colors.gridMajor : colors.gridMinor,
                    lineWidth: ctx => (ctx.tick && yTickLabels.includes(String(ctx.tick.value))) ? 1.2 : 1.5,
                    tickLength: 7,
                    tickColor: '#000',
                    tickWidth: 1.2
                },
                border: {display: true, color: '#000', width: 1.5}
            }
        }
    },
    plugins: [decorations]
});
</script>
</body>
</html>
